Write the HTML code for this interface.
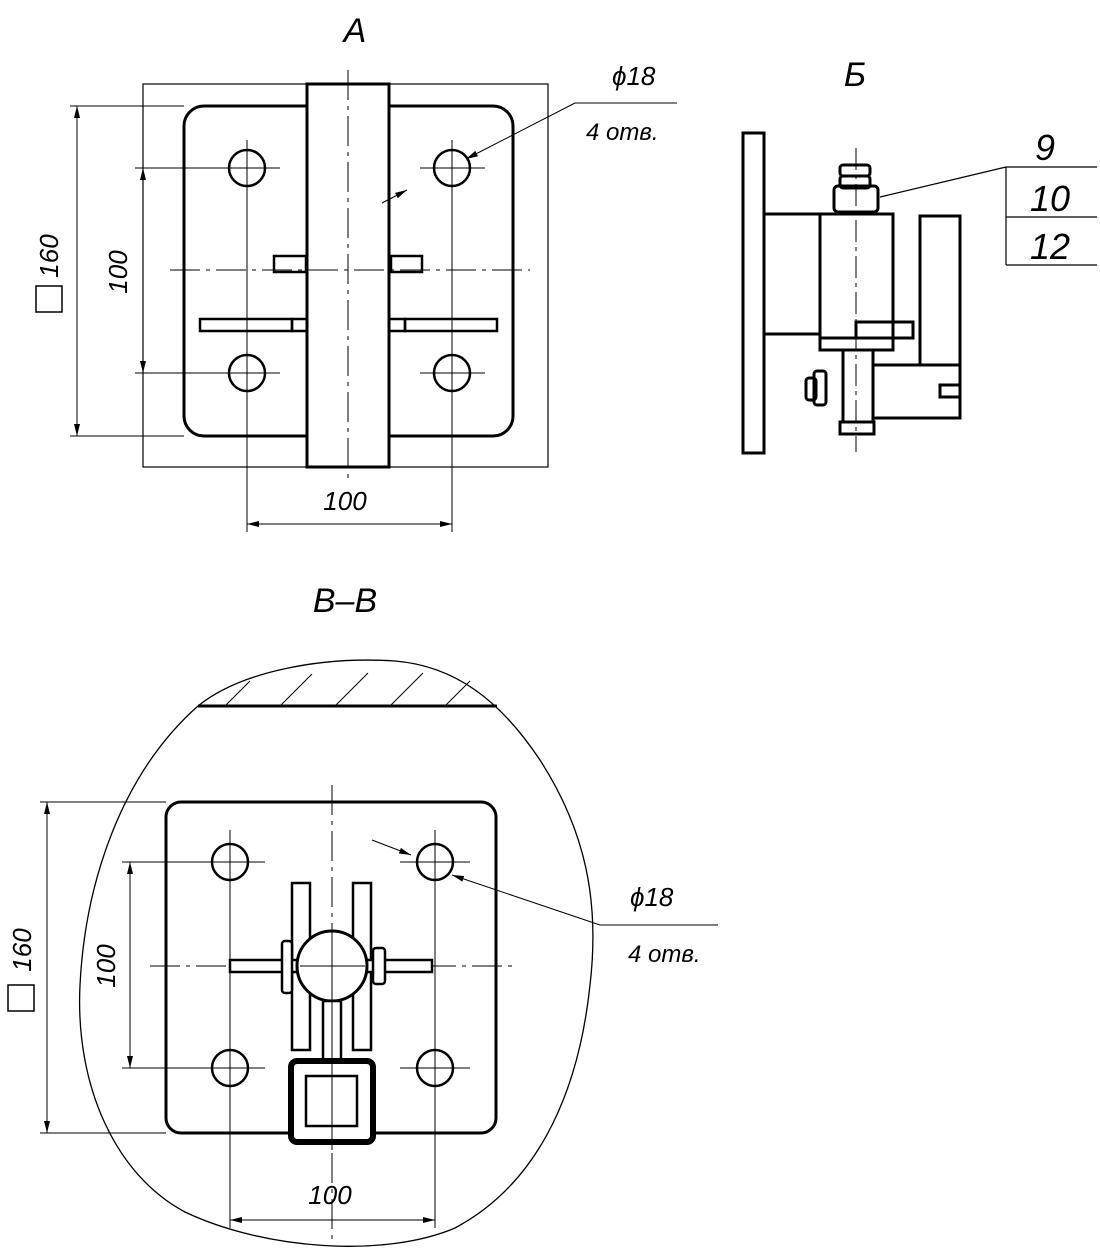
<!DOCTYPE html>
<html><head><meta charset="utf-8"><style>
body{margin:0;background:#fff}
svg{display:block}
text{font-family:"Liberation Sans",sans-serif;font-style:italic;fill:#000}
</style></head><body>
<svg width="1100" height="1251" viewBox="0 0 1100 1251" xmlns="http://www.w3.org/2000/svg">
<defs>
<marker id="ar" viewBox="0 0 12 6" refX="12" refY="3" markerWidth="12" markerHeight="6" orient="auto-start-reverse" markerUnits="userSpaceOnUse"><path d="M0,0 L12,3 L0,6 Z" fill="#000"/></marker>
</defs>
<g fill="none" stroke="#000">
<!-- VIEW A -->
<rect x="143" y="84" width="405" height="383" stroke-width="1.2"/>
<rect x="184" y="106" width="329" height="330" rx="20" stroke-width="3"/>
<rect x="307" y="84" width="82" height="383" fill="#fff" stroke-width="3"/>
<g stroke-width="1" stroke-dasharray="30,6,4,6">
<line x1="348" y1="70" x2="348" y2="480"/>
<line x1="170" y1="270" x2="530" y2="270"/>
</g>
<g stroke-width="2.5"><circle cx="247" cy="168" r="18"/><circle cx="452" cy="168" r="18"/><circle cx="247" cy="373" r="18"/><circle cx="452" cy="373" r="18"/>
<rect x="274" y="256" width="32" height="16"/><rect x="391" y="256" width="31" height="16"/>
<rect x="200" y="319" width="92" height="12"/><rect x="292" y="319" width="15" height="12"/>
<rect x="389" y="319" width="16" height="12"/><rect x="405" y="319" width="92" height="12"/></g>
<g stroke-width="1">
<line x1="215" y1="168" x2="280" y2="168"/><line x1="420" y1="168" x2="485" y2="168"/>
<line x1="135" y1="373" x2="280" y2="373"/><line x1="420" y1="373" x2="485" y2="373"/>
<line x1="135" y1="168" x2="215" y2="168"/>
<line x1="247" y1="140" x2="247" y2="532"/><line x1="452" y1="140" x2="452" y2="532"/>
<line x1="70" y1="106" x2="184" y2="106"/><line x1="70" y1="436" x2="184" y2="436"/>
<line x1="77" y1="106" x2="77" y2="436" marker-start="url(#ar)" marker-end="url(#ar)"/>
<line x1="143" y1="168" x2="143" y2="373" marker-start="url(#ar)" marker-end="url(#ar)"/>
<line x1="247" y1="524" x2="452" y2="524" marker-start="url(#ar)" marker-end="url(#ar)"/>
<line x1="382" y1="203" x2="407" y2="190" marker-end="url(#ar)"/>
<line x1="575" y1="103" x2="466" y2="159" marker-end="url(#ar)"/>
<line x1="575" y1="103" x2="677" y2="103"/>
</g>
<rect x="36" y="286" width="26" height="26" stroke-width="1.5"/>
<!-- VIEW B -->
<g stroke-width="3">
<rect x="743" y="133" width="21" height="320"/>
<rect x="764" y="214" width="56" height="120"/>
<rect x="820" y="214" width="73" height="124"/>
<rect x="920" y="216" width="40" height="149"/>
<rect x="820" y="338" width="73" height="12"/>
<rect x="843" y="350" width="30" height="72"/>
<rect x="840" y="422" width="34" height="12"/>
<rect x="873" y="365" width="87" height="53"/>
<rect x="940" y="385" width="20" height="12"/>
<rect x="856" y="322" width="57" height="16"/>
<rect x="834" y="186" width="44" height="26" rx="4"/>
<rect x="840" y="176" width="30" height="12" rx="3"/>
<rect x="840" y="165" width="30" height="11" rx="3"/>
<rect x="814" y="371" width="12" height="34" rx="3"/>
<rect x="806" y="378" width="10" height="22" rx="3"/>
</g>
<line x1="856" y1="148" x2="856" y2="452" stroke-width="1" stroke-dasharray="22,5,4,5"/>
<g stroke-width="1.2">
<line x1="880" y1="197" x2="1006" y2="167"/>
<line x1="1006" y1="167" x2="1006" y2="265"/>
<line x1="1006" y1="167" x2="1097" y2="167"/>
<line x1="1006" y1="217" x2="1097" y2="217"/>
<line x1="1006" y1="265" x2="1097" y2="265"/>
</g>
<!-- VIEW V-V -->
<path d="M198,706 C240,672 320,656 395,661 C455,666 500,700 540,760 C585,830 600,900 590,985 C580,1080 545,1180 455,1228 C385,1258 265,1250 185,1212 C115,1175 75,1085 80,985 C85,885 120,775 198,706 Z" stroke-width="1.3"/>
<line x1="198" y1="706" x2="497" y2="706" stroke-width="3"/>
<g stroke-width="1">
<line x1="225" y1="706" x2="250" y2="681"/><line x1="280" y1="706" x2="312" y2="674"/>
<line x1="335" y1="706" x2="368" y2="673"/><line x1="390" y1="706" x2="423" y2="673"/>
<line x1="445" y1="706" x2="470" y2="681"/>
</g>
<rect x="166" y="802" width="330" height="331" rx="15" stroke-width="3"/>
<g stroke-width="2.5"><circle cx="230" cy="862" r="18"/><circle cx="435" cy="862" r="18"/><circle cx="230" cy="1068" r="18"/><circle cx="435" cy="1068" r="18"/></g>
<g stroke-width="1" stroke-dasharray="30,6,4,6">
<line x1="332" y1="785" x2="332" y2="1240"/>
<line x1="150" y1="966" x2="515" y2="966"/>
</g>
<g stroke-width="2.5">
<rect x="292" y="883" width="18" height="167" fill="#fff"/>
<rect x="353" y="883" width="18" height="167" fill="#fff"/>
<rect x="230" y="960" width="202" height="12" fill="#fff"/>
<rect x="282" y="941" width="10" height="52" rx="3" fill="#fff"/>
<rect x="373" y="948" width="12" height="36" rx="3" fill="#fff"/>
<circle cx="332" cy="966" r="35" fill="#fff" stroke-width="3"/>
<rect x="323" y="1001" width="18" height="60" fill="#fff"/>
<rect x="291" y="1061" width="82" height="81" rx="6" fill="#fff" stroke-width="6"/>
<rect x="306" y="1076" width="51" height="50"/>
</g>
<g stroke-width="1">
<line x1="332" y1="930" x2="332" y2="1150"/>
<line x1="300" y1="966" x2="365" y2="966"/>
<line x1="195" y1="862" x2="265" y2="862"/><line x1="400" y1="862" x2="470" y2="862"/>
<line x1="122" y1="862" x2="195" y2="862"/>
<line x1="122" y1="1068" x2="265" y2="1068"/><line x1="400" y1="1068" x2="470" y2="1068"/>
<line x1="230" y1="830" x2="230" y2="1228"/><line x1="435" y1="830" x2="435" y2="1228"/>
<line x1="40" y1="802" x2="166" y2="802"/><line x1="40" y1="1133" x2="166" y2="1133"/>
<line x1="47" y1="802" x2="47" y2="1133" marker-start="url(#ar)" marker-end="url(#ar)"/>
<line x1="130" y1="862" x2="130" y2="1068" marker-start="url(#ar)" marker-end="url(#ar)"/>
<line x1="230" y1="1220" x2="435" y2="1220" marker-start="url(#ar)" marker-end="url(#ar)"/>
<line x1="372" y1="840" x2="411" y2="855" marker-end="url(#ar)"/>
<line x1="600" y1="925" x2="452" y2="875" marker-end="url(#ar)"/>
<line x1="600" y1="925" x2="718" y2="925"/>
</g>
<rect x="8" y="985" width="26" height="26" stroke-width="1.5"/>
</g>
<!-- text -->
<text x="355" y="42" font-size="34" text-anchor="middle">A</text>
<text x="855" y="86" font-size="34" text-anchor="middle">Б</text>
<text x="345" y="612" font-size="34" text-anchor="middle">В–В</text>
<text x="612" y="85" font-size="26">ϕ18</text>
<text x="586" y="140" font-size="24">4 отв.</text>
<text x="0" y="0" font-size="26" transform="translate(58,256) rotate(-90)" text-anchor="middle">160</text>
<text x="0" y="0" font-size="26" transform="translate(127,272) rotate(-90)" text-anchor="middle">100</text>
<text x="345" y="510" font-size="26" text-anchor="middle">100</text>
<text x="1045" y="160" font-size="36" text-anchor="middle">9</text>
<text x="1050" y="211" font-size="36" text-anchor="middle">10</text>
<text x="1050" y="259" font-size="36" text-anchor="middle">12</text>
<text x="630" y="906" font-size="26">ϕ18</text>
<text x="628" y="962" font-size="24">4 отв.</text>
<text x="0" y="0" font-size="26" transform="translate(31,950) rotate(-90)" text-anchor="middle">160</text>
<text x="0" y="0" font-size="26" transform="translate(115,966) rotate(-90)" text-anchor="middle">100</text>
<text x="330" y="1204" font-size="26" text-anchor="middle">100</text>
</svg>
</body></html>
